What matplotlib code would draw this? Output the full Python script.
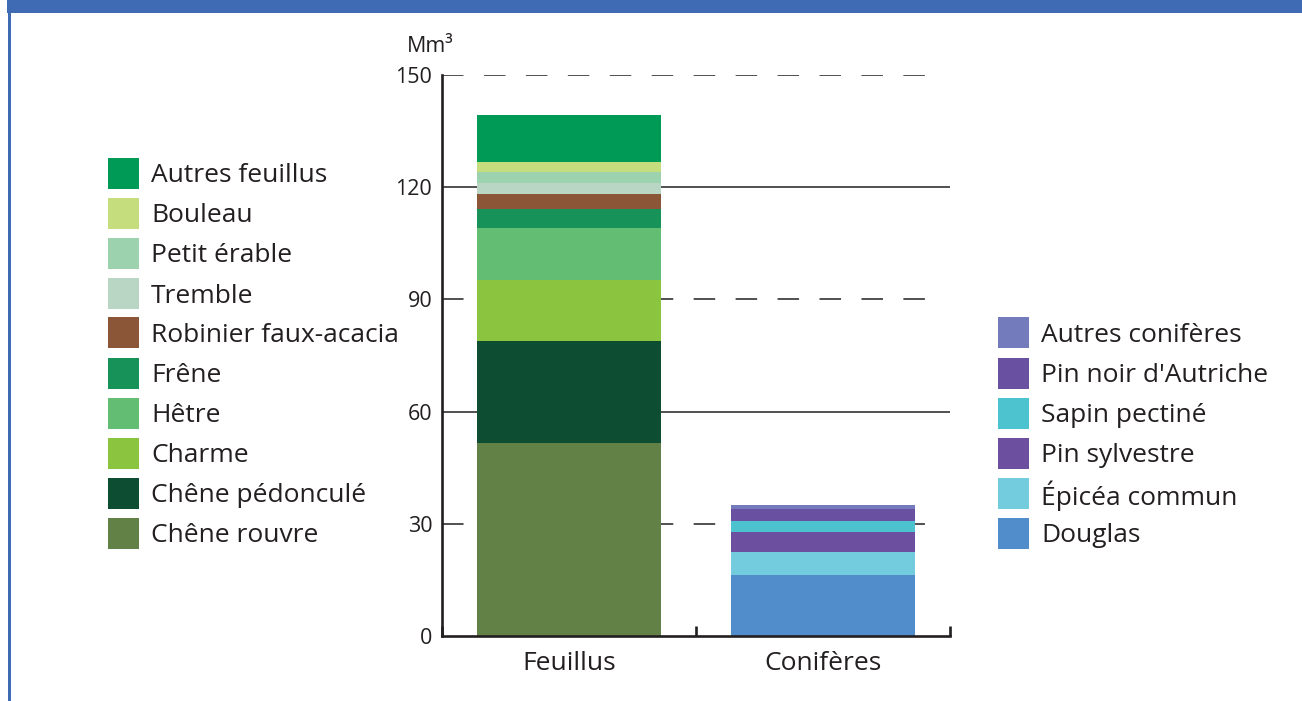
"""Stacked bar chart: standing volume by species, broadleaves vs conifers."""
import matplotlib
matplotlib.use('Agg')
import matplotlib.pyplot as plt
from matplotlib.patches import Rectangle

plt.rcParams['font.family'] = ['Open Sans', 'DejaVu Sans']
plt.rcParams['lines.scale_dashes'] = False

INK = '#231F20'
BLUE = '#3F6BB5'

# Data (Mm³), from bottom of stack to top
groups = ['Feuillus', 'Conifères']

feuillus_labels = ['Chêne rouvre', 'Chêne pédonculé', 'Charme', 'Hêtre', 'Frêne',
                   'Robinier faux-acacia', 'Tremble', 'Petit érable', 'Bouleau',
                   'Autres feuillus']
feuillus_values = [51.6, 27.3, 16.3, 13.9, 5.1, 4.0, 2.9, 3.0, 2.6, 12.6]
feuillus_colors = ['#628146', '#0D4D32', '#8BC53F', '#63BE74', '#17935A',
                   '#8A5637', '#B9D5C3', '#9CD3AE', '#C5DD7D', '#009A57']

coniferes_labels = ['Douglas', 'Épicéa commun', 'Pin sylvestre', 'Sapin pectiné',
                    "Pin noir d'Autriche", 'Autres conifères']
coniferes_values = [16.3, 6.2, 5.4, 2.8, 3.3, 1.0]
coniferes_colors = ['#518DCB', '#72CCDD', '#6D4F9F', '#4DC3CF', '#6950A1', '#747BBD']

yticks = [0, 30, 60, 90, 120, 150]

W, H = 1302, 701
fig = plt.figure(figsize=(W / 100, H / 100), dpi=100)


def px(x, y):
    """Pixel (from top-left) to figure fraction."""
    return x / W, 1 - y / H


# Header band and left frame line
fig.add_artist(Rectangle(px(7, 13), 1, 13 / H, transform=fig.transFigure,
                         color=BLUE, lw=0))
fig.add_artist(Rectangle(px(8, 701), 2.5 / W, (701 - 13) / H,
                         transform=fig.transFigure, color=BLUE, lw=0))

ax = fig.add_axes([442 / W, (H - 636) / H, 508 / W, 561 / H])
ax.set_xlim(-0.5, 1.5)
ax.set_ylim(0, 150)

# Stacked bars
bottom = 0
for v, c in zip(feuillus_values, feuillus_colors):
    ax.bar(0, v, bottom=bottom, width=0.725, color=c, lw=0, zorder=3)
    bottom += v
bottom = 0
for v, c in zip(coniferes_values, coniferes_colors):
    ax.bar(1, v, bottom=bottom, width=0.725, color=c, lw=0, zorder=3)
    bottom += v

# Grid lines: solid at 60/120, dashed at 30/90/150
for y in yticks[1:]:
    if y % 60 == 0:
        ax.plot([-0.5, 1.5], [y, y], color=INK, lw=1.1, zorder=1,
                solid_capstyle='butt')
    else:
        ax.plot([-0.5, 1.43], [y, y], color=INK, lw=1.1, zorder=1,
                linestyle=(0, (15.5, 14.7)), dash_capstyle='butt')

for side in ['top', 'right']:
    ax.spines[side].set_visible(False)
for side in ['left', 'bottom']:
    ax.spines[side].set_linewidth(1.9)
    ax.spines[side].set_color(INK)
    ax.spines[side].set_zorder(4)

ax.set_yticks(yticks)
ax.set_yticklabels([str(t) for t in yticks])
ax.tick_params(axis='y', length=0, pad=7, labelsize=15.5, colors=INK)

ax.set_xticks([0, 1])
ax.set_xticklabels(groups)
ax.tick_params(axis='x', which='major', length=0, pad=11, labelsize=19,
               colors=INK)
ax.set_xticks([-0.5, 0.5, 1.5], minor=True)
ax.tick_params(axis='x', which='minor', direction='in', length=7, width=1.9,
               color=INK)

fig.text(*px(430, 46), 'Mm³', ha='center', va='center', fontsize=15.5,
         color=INK)


def draw_legend(labels, colors, x0, y_last):
    """Legend rows top-down, last row centred at y_last (pixels)."""
    for i, (lab, col) in enumerate(zip(labels, colors)):
        yc = y_last - 40 * i
        fig.add_artist(Rectangle(px(x0, yc + 15.5), 31 / W, 31 / H,
                                 transform=fig.transFigure, color=col, lw=0))
        fig.text(*px(x0 + 43, yc), lab, ha='left', va='center_baseline',
                 fontsize=19, color=INK)


draw_legend(feuillus_labels, feuillus_colors, 108, 533)
draw_legend(coniferes_labels, coniferes_colors, 998, 533)

fig.savefig('out.png', dpi=100)
